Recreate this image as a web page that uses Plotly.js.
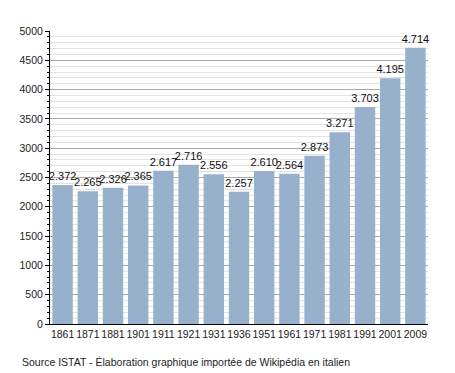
<!DOCTYPE html>
<html><head><meta charset="utf-8">
<script src="https://cdn.plot.ly/plotly-3.0.1.min.js"></script>
<style>html,body{margin:0;padding:0;background:#fff}#c{width:455px;height:373px}</style>
</head><body><div id="c"></div>
<script>
const years = ["1861","1871","1881","1901","1911","1921","1931","1936","1951","1961","1971","1981","1991","2001","2009"];
const population = [2372,2265,2326,2365,2617,2716,2556,2257,2610,2564,2873,3271,3703,4195,4714];
const yTicks = [0,500,1000,1500,2000,2500,3000,3500,4000,4500,5000];
const sourceNote = "Source ISTAT - Élaboration graphique importée de Wikipédia en italien";

const FONT = "Liberation Sans, Arial, sans-serif";
Plotly.newPlot('c', [{
  type:'bar', x: years, y: population,
  marker:{color:'#97b0cc'},
  texttemplate:'%{y:,}', textposition:'outside', constraintext:'none', cliponaxis:false,
  textfont:{family:FONT, size:11, color:'#111'},
  hoverinfo:'none'
}], {
  width:455, height:373,
  margin:{l:50, r:27, t:31, b:49},
  separators:',.',
  paper_bgcolor:'#fff', plot_bgcolor:'#fff',
  bargap:0.19,
  font:{family:FONT, size:10, color:'#222'},
  showlegend:false,
  xaxis:{type:'category', showline:true, linecolor:'#000', linewidth:1, ticks:'', showgrid:false,
         tickangle:0, ticklabeloverflow:'allow',
         tickfont:{family:FONT, size:10.5, color:'#222'}, fixedrange:true, automargin:false},
  yaxis:{range:[0,5000], tickvals:yTicks, showline:true, linecolor:'#000', linewidth:1,
         ticks:'outside', ticklen:4, tickcolor:'#000', gridcolor:'#aaaaaa', gridwidth:1,
         zeroline:false, tickfont:{family:FONT, size:10.5, color:'#222'},
         minor:{dtick:100, showgrid:true, gridcolor:'#e2e2e2', gridwidth:1, ticks:'outside', ticklen:2, tickcolor:'#000'},
         fixedrange:true, automargin:false},
  annotations:[{text:sourceNote, xref:'paper', yref:'paper', x:-50/378, y:-38/293, xanchor:'left', yanchor:'middle',
                showarrow:false, font:{family:FONT, size:10.5, color:'#222'}, xshift:20}]
}, {staticPlot:true});
</script></body></html>
